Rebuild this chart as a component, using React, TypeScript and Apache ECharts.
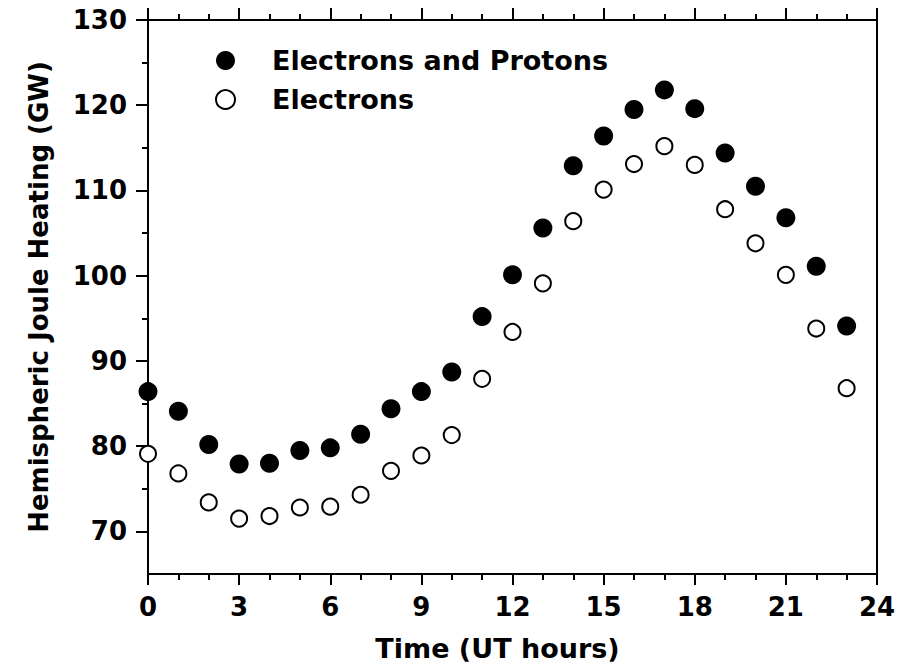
import React, { useEffect, useRef } from "react";
import * as echarts from "echarts";

// UT hour of each hourly bin
const hours: number[] = [
  0, 1, 2, 3, 4, 5, 6, 7, 8, 9, 10, 11, 12, 13, 14, 15, 16, 17, 18, 19, 20, 21, 22, 23,
];

// Hemispheric Joule heating (GW), electron + proton precipitation
const electronsAndProtons: number[] = [
  86.4, 84.1, 80.2, 77.9, 78.0, 79.5, 79.8, 81.4, 84.4, 86.4, 88.7, 95.2,
  100.1, 105.6, 112.9, 116.4, 119.5, 121.8, 119.6, 114.4, 110.5, 106.8, 101.1, 94.1,
];

// Hemispheric Joule heating (GW), electron precipitation only
const electronsOnly: number[] = [
  79.1, 76.8, 73.4, 71.5, 71.8, 72.8, 72.9, 74.3, 77.1, 78.9, 81.3, 87.9,
  93.4, 99.1, 106.4, 110.1, 113.1, 115.2, 113.0, 107.8, 103.8, 100.1, 93.8, 86.8,
];

const yMajorTicks: number[] = [70, 80, 90, 100, 110, 120, 130];
const yMinorTicks: number[] = [75, 85, 95, 105, 115, 125];

const FONT = "DejaVu Sans";
const INK = "#000";

export default function App() {
  const ref = useRef<HTMLDivElement>(null);

  useEffect(() => {
    if (!ref.current) return;
    const chart = echarts.init(ref.current, undefined, { renderer: "svg" });

    const lineStyle = { color: INK, width: 2 };

    chart.setOption({
      animation: false,
      backgroundColor: "#fff",
      grid: { left: 148, right: 32, top: 20, bottom: 92, containLabel: false },
      legend: {
        left: 210,
        top: 42,
        orient: "vertical",
        itemWidth: 19,
        itemHeight: 19,
        itemGap: 12,
        selectedMode: false,
        textStyle: {
          fontFamily: FONT,
          fontWeight: "bold",
          fontSize: 27,
          color: INK,
          lineHeight: 19,
          padding: [0, 0, 0, 32],
        },
        data: [
          { name: "Electrons and Protons", icon: "circle", itemStyle: { color: INK } },
          {
            name: "Electrons",
            icon: "circle",
            itemStyle: { color: "#fff", borderColor: INK, borderWidth: 2 },
          },
        ],
      },
      xAxis: [
        {
          type: "value",
          position: "bottom",
          min: 0,
          max: 24,
          interval: 3,
          name: "Time (UT hours)",
          nameLocation: "middle",
          nameGap: 61,
          nameTextStyle: {
            fontFamily: FONT,
            fontWeight: "bold",
            fontSize: 27,
            color: INK,
            padding: [0, 30, 0, 0],
          },
          axisLine: { show: true, onZero: false, lineStyle },
          axisTick: { show: true, inside: false, length: 11, lineStyle },
          minorTick: { show: true, splitNumber: 3, length: 6, lineStyle },
          splitLine: { show: false },
          axisLabel: {
            margin: 20,
            fontFamily: FONT,
            fontWeight: "bold",
            fontSize: 26,
            color: INK,
          },
        },
        {
          type: "value",
          position: "top",
          min: 0,
          max: 24,
          interval: 3,
          axisLine: { show: true, onZero: false, lineStyle },
          axisTick: { show: true, inside: false, length: 12, lineStyle },
          minorTick: { show: true, splitNumber: 3, length: 6, lineStyle },
          splitLine: { show: false },
          axisLabel: { show: false },
        },
      ],
      yAxis: [
        {
          type: "value",
          position: "left",
          min: 65,
          max: 130,
          name: "Hemispheric Joule Heating (GW)",
          nameLocation: "middle",
          nameGap: 96,
          nameTextStyle: {
            fontFamily: FONT,
            fontWeight: "bold",
            fontSize: 26,
            color: INK,
          },
          axisLine: { show: true, onZero: false, lineStyle },
          axisTick: { show: true, inside: false, length: 12, lineStyle, customValues: yMajorTicks },
          splitLine: { show: false },
          axisLabel: {
            margin: 21,
            fontFamily: FONT,
            fontWeight: "bold",
            fontSize: 26,
            color: INK,
            customValues: yMajorTicks,
          },
        },
        {
          type: "value",
          position: "left",
          min: 65,
          max: 130,
          axisLine: { show: false, onZero: false },
          axisTick: { show: true, inside: false, length: 6, lineStyle, customValues: yMinorTicks },
          splitLine: { show: false },
          axisLabel: { show: false, customValues: yMinorTicks },
        },
        {
          type: "value",
          position: "right",
          min: 65,
          max: 130,
          axisLine: { show: true, onZero: false, lineStyle },
          axisTick: { show: false },
          splitLine: { show: false },
          axisLabel: { show: false },
        },
      ],
      series: [
        {
          name: "Electrons and Protons",
          type: "scatter",
          xAxisIndex: 0,
          yAxisIndex: 0,
          symbol: "circle",
          symbolSize: 19,
          itemStyle: { color: INK, opacity: 1 },
          data: hours.map((h, i) => [h, electronsAndProtons[i]]),
        },
        {
          name: "Electrons",
          type: "scatter",
          xAxisIndex: 0,
          yAxisIndex: 0,
          symbol: "circle",
          symbolSize: 16,
          itemStyle: { color: "#fff", borderColor: INK, borderWidth: 2, opacity: 1 },
          data: hours.map((h, i) => [h, electronsOnly[i]]),
        },
      ],
    });

    return () => chart.dispose();
  }, []);

  return (
    <div
      ref={ref}
      style={{ position: "fixed", left: 0, top: 0, width: 909, height: 667, background: "#fff" }}
    />
  );
}
